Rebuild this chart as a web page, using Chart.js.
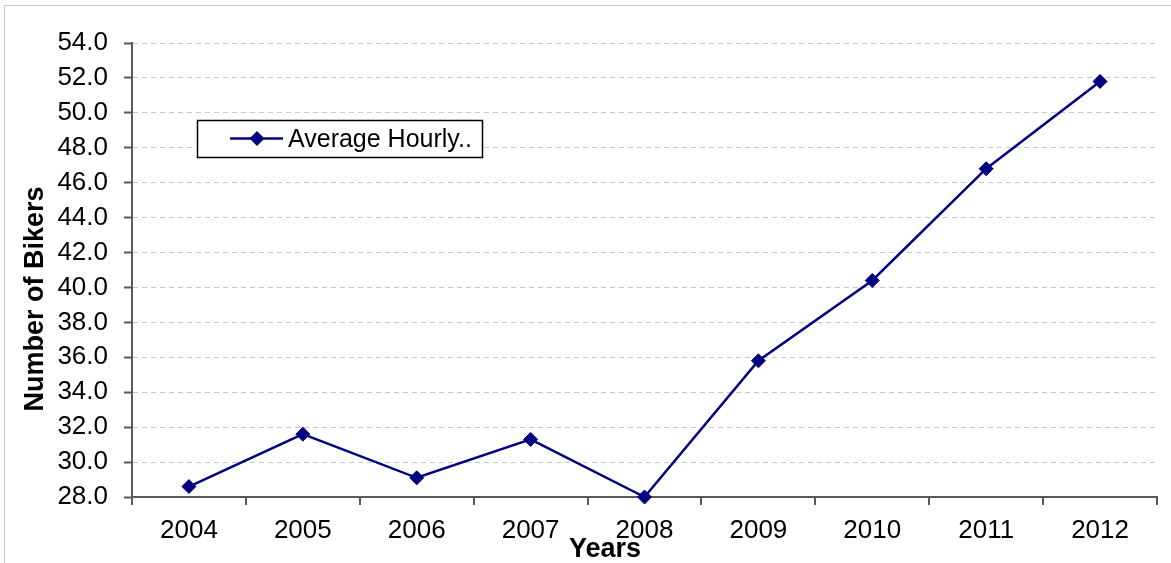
<!DOCTYPE html>
<html>
<head>
<meta charset="utf-8">
<script src="https://cdn.jsdelivr.net/npm/chart.js@4"></script>
<style>
  html, body { margin: 0; padding: 0; background: #fff; }
  #wrap { width: 1171px; height: 563px; }
</style>
</head>
<body>
<div id="wrap"><canvas id="chart" width="1171" height="563"></canvas></div>
<script>
// yearly averages
const years = ['2004', '2005', '2006', '2007', '2008', '2009', '2010', '2011', '2012'];
const bikers = [28.6, 31.6, 29.1, 31.3, 28.0, 35.8, 40.4, 46.8, 51.8];
const seriesName = 'Average Hourly..';
const xTitle = 'Years';
const yTitle = 'Number of Bikers';

const navy = '#000080';
const axisGray = '#595959';
const FONT = '"Liberation Sans", Arial, sans-serif';

// white page with a thin gray frame
const frame = {
    id: 'frame',
    beforeDraw: (chart) => {
        const ctx = chart.ctx;
        ctx.save();
        ctx.fillStyle = '#fff';
        ctx.fillRect(0, 0, chart.width, chart.height);
        ctx.strokeStyle = '#c4c4c4';
        ctx.lineWidth = 1;
        ctx.strokeRect(4.5, 5.5, chart.width + 10, chart.height + 10);
        ctx.restore();
    }
};

// axis titles and the boxed legend
const extras = {
    id: 'extras',
    afterDraw: (chart) => {
        const ctx = chart.ctx;
        ctx.save();
        ctx.fillStyle = '#000';
        ctx.font = 'bold 27px ' + FONT;
        ctx.textAlign = 'center';
        ctx.textBaseline = 'middle';
        ctx.fillText(xTitle, 605, 550);
        ctx.translate(36, 299);
        ctx.rotate(-Math.PI / 2);
        ctx.fillText(yTitle, 0, 0);
        ctx.restore();

        ctx.save();
        ctx.fillStyle = '#fff';
        ctx.fillRect(197, 120, 285, 37);
        ctx.strokeStyle = '#000';
        ctx.lineWidth = 1.5;
        ctx.strokeRect(197.5, 120.5, 285, 37);
        ctx.strokeStyle = navy;
        ctx.lineWidth = 2.5;
        ctx.beginPath();
        ctx.moveTo(230, 138.5);
        ctx.lineTo(283, 138.5);
        ctx.stroke();
        ctx.fillStyle = navy;
        ctx.beginPath();
        ctx.moveTo(257, 131);
        ctx.lineTo(264.5, 138.5);
        ctx.lineTo(257, 146);
        ctx.lineTo(249.5, 138.5);
        ctx.closePath();
        ctx.fill();
        ctx.fillStyle = '#000';
        ctx.font = '25px ' + FONT;
        ctx.textAlign = 'left';
        ctx.textBaseline = 'middle';
        ctx.fillText(chart.data.datasets[0].label, 288, 140);
        ctx.restore();
    }
};

const ctx = document.getElementById('chart').getContext('2d');
const myChart = new Chart(ctx, {
    type: 'line',
    data: {
        labels: years,
        datasets: [{
            label: seriesName,
            data: bikers,
            borderColor: navy,
            backgroundColor: navy,
            borderWidth: 2.5,
            tension: 0,
            pointStyle: 'rectRot',
            pointRadius: 7,
            pointBorderWidth: 1,
            pointBackgroundColor: navy,
            pointBorderColor: navy,
            clip: false,
        }]
    },
    options: {
        responsive: false,
        animation: false,
        layout: { padding: { top: 43, right: 14, left: 0, bottom: 0 } },
        plugins: {
            legend: { display: false },
            tooltip: { enabled: false },
        },
        scales: {
            x: {
                offset: true,
                afterFit: (scale) => { scale.height = 66; },
                border: { display: true, color: axisGray, width: 2 },
                grid: {
                    offset: true,
                    drawOnChartArea: false,
                    drawTicks: true,
                    tickLength: 8,
                    color: axisGray,
                    lineWidth: 2,
                },
                ticks: {
                    color: '#000',
                    font: { family: FONT, size: 26 },
                    padding: 10,
                    maxRotation: 0,
                },
            },
            y: {
                min: 28,
                max: 54,
                afterFit: (scale) => { scale.width = 132; },
                border: { display: true, color: axisGray, width: 2, dash: [5, 4] },
                grid: {
                    color: '#c8c8c8',
                    lineWidth: 1,
                    tickLength: 8,
                    tickColor: axisGray,
                    tickWidth: 2,
                    tickBorderDash: [],
                },
                ticks: {
                    stepSize: 2,
                    color: '#000',
                    font: { family: FONT, size: 26 },
                    padding: 16,
                    callback: (v) => v.toFixed(1),
                },
            },
        }
    },
    plugins: [frame, extras],
});
</script>
</body>
</html>
